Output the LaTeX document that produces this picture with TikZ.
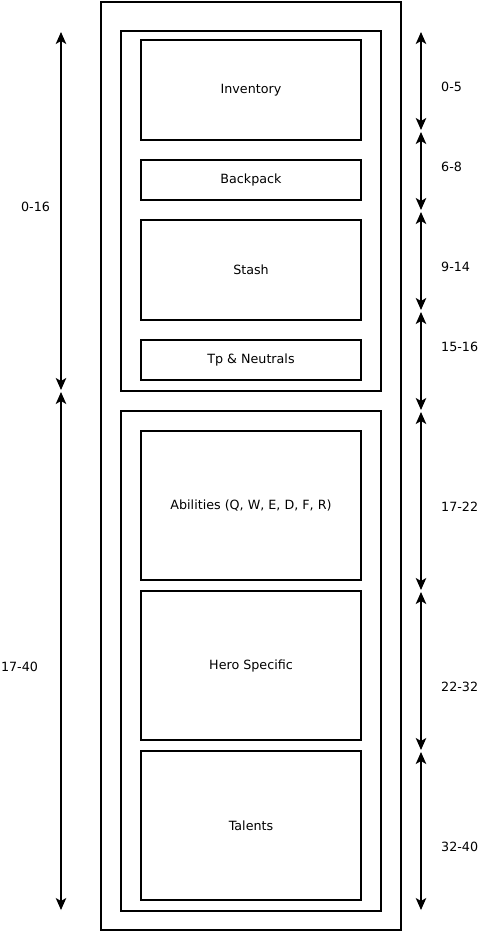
\documentclass[tikz,border=0pt]{standalone}
\usepackage{fontspec}
\setmainfont{DejaVu Sans}
\usetikzlibrary{arrows.meta}
\begin{document}
\begin{tikzpicture}[x=1pt,y=-1pt,
  box/.style={draw,line width=1.2pt,rectangle,inner sep=0pt},
  lbl/.style={font=\fontsize{12.7}{14}\selectfont,inner sep=0pt},
  dim/.style={line width=1.2pt,{Stealth[length=12pt,width=10.5pt,inset=3pt]}-{Stealth[length=12pt,width=10.5pt,inset=3pt]}}]
\useasboundingbox (0,0) rectangle (479,932);
% containers
\draw[box] (101,2) rectangle (401,930);
\draw[box] (121,31) rectangle (381,391);
\draw[box] (121,411) rectangle (381,911);
% inner boxes
\node[box,minimum width=220pt,minimum height=100pt] (inv) at (251,90) {};
\node[lbl] at (inv.center) {Inventory};
\node[box,minimum width=220pt,minimum height=40pt] (bp) at (251,180) {};
\node[lbl] at (bp.center) {Backpack};
\node[box,minimum width=220pt,minimum height=100pt] (st) at (251,270) {};
\node[lbl] at (st.center) {Stash};
\node[box,minimum width=220pt,minimum height=40pt] (tp) at (251,360) {};
\node[lbl] at (tp.center) {Tp \& Neutrals};
\node[box,minimum width=220pt,minimum height=149pt] (ab) at (251,505.5) {};
\node[lbl] at (ab.center) {Abilities (Q, W, E, D, F, R)};
\node[box,minimum width=220pt,minimum height=149pt] (hs) at (251,665.5) {};
\node[lbl] at (hs.center) {Hero Specific};
\node[box,minimum width=220pt,minimum height=149pt] (ta) at (251,825.5) {};
\node[lbl] at (ta.center) {Talents};
% left dimension arrows
\coordinate (l1a) at (61,32); \coordinate (l1b) at (61,390);
\coordinate (l2a) at (61,392); \coordinate (l2b) at (61,910);
\draw[dim] (l1a) -- (l1b);
\draw[dim] (l2a) -- (l2b);
\node[lbl] (t016) at (35.5,207) {0-16};
\node[lbl] (t1740) at (19.5,667) {17-40};
% right dimension arrows
\coordinate (r0) at (421,32);
\coordinate (r1a) at (421,130); \coordinate (r1b) at (421,132);
\coordinate (r2a) at (421,210); \coordinate (r2b) at (421,212);
\coordinate (r3a) at (421,310); \coordinate (r3b) at (421,312);
\coordinate (r4a) at (421,410); \coordinate (r4b) at (421,412);
\coordinate (r5a) at (421,590); \coordinate (r5b) at (421,592);
\coordinate (r6a) at (421,750); \coordinate (r6b) at (421,752);
\coordinate (r7) at (421,910);
\draw[dim] (r0) -- (r1a);
\draw[dim] (r1b) -- (r2a);
\draw[dim] (r2b) -- (r3a);
\draw[dim] (r3b) -- (r4a);
\draw[dim] (r4b) -- (r5a);
\draw[dim] (r5b) -- (r6a);
\draw[dim] (r6b) -- (r7);
\node[lbl,anchor=west] (a) at (441,87) {0-5};
\node[lbl,anchor=west] (b) at (441,167) {6-8};
\node[lbl,anchor=west] (c) at (441,267) {9-14};
\node[lbl,anchor=west] (d) at (441,347) {15-16};
\node[lbl,anchor=west] (e) at (441,507) {17-22};
\node[lbl,anchor=west] (f) at (441,687) {22-32};
\node[lbl,anchor=west] (g) at (441,847) {32-40};
\end{tikzpicture}
\end{document}
